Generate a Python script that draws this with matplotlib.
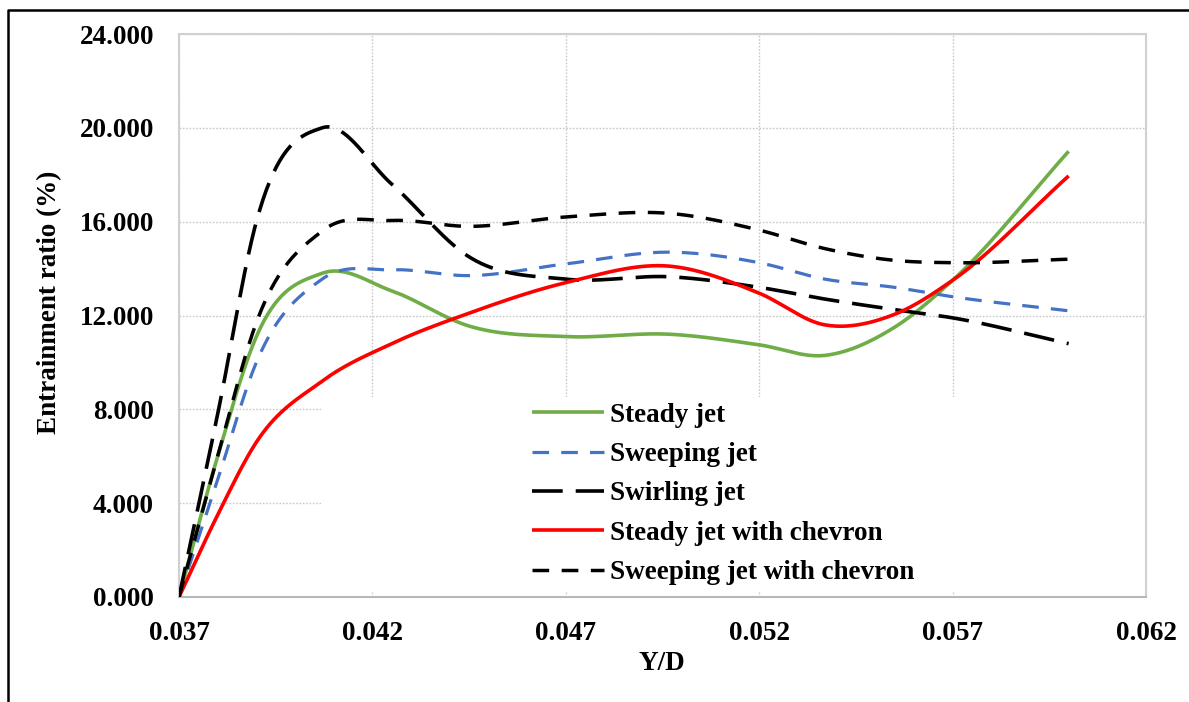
import numpy as np
import matplotlib.pyplot as plt
from matplotlib.lines import Line2D
from matplotlib.patches import Rectangle

plt.rcParams['font.family'] = ['Liberation Serif', 'DejaVu Serif']
plt.rcParams['font.weight'] = 'bold'

# Y/D stations and entrainment ratio (%) for each jet configuration
yd = [0.037, 0.038, 0.039, 0.0407, 0.0425, 0.0445, 0.047, 0.0497, 0.052, 0.0537, 0.0555, 0.057, 0.060]
steady = [0.0, 6.0, 11.1, 13.8, 13.05, 11.55, 11.1, 11.2, 10.75, 10.3, 11.5, 13.5, 19.0]
sweeping = [0.0, 5.0, 10.0, 13.55, 13.95, 13.7, 14.2, 14.7, 14.25, 13.55, 13.2, 12.8, 12.2]
swirling = [0.0, 7.8, 16.0, 20.0, 17.6, 14.5, 13.55, 13.65, 13.2, 12.7, 12.25, 11.9, 10.8]
steady_chevron = [0.0, 3.5, 6.6, 9.2, 10.8, 12.1, 13.4, 14.1, 12.95, 11.6, 12.05, 13.5, 17.95]
sweeping_chevron = [0.0, 6.0, 11.7, 15.6, 16.05, 15.8, 16.2, 16.35, 15.64, 14.85, 14.35, 14.25, 14.4]

labels = ['Steady jet', 'Sweeping jet', 'Swirling jet',
          'Steady jet with chevron', 'Sweeping jet with chevron']
x_ticks = [0.037, 0.042, 0.047, 0.052, 0.057, 0.062]
y_ticks = [0, 4, 8, 12, 16, 20, 24]


def smooth(x, y, n=40):
    # smoothed line: cubic Hermite segments with weighted central slopes
    x = np.asarray(x, float)
    y = np.asarray(y, float)
    h = np.diff(x)
    d = np.diff(y) / h
    m = np.empty_like(y)
    m[0], m[-1] = d[0], d[-1]
    m[1:-1] = (d[1:] * h[:-1] + d[:-1] * h[1:]) / (h[:-1] + h[1:])
    xs, ys = [], []
    for i in range(len(x) - 1):
        t = np.linspace(0, 1, n)
        h00 = 2 * t ** 3 - 3 * t ** 2 + 1
        h10 = t ** 3 - 2 * t ** 2 + t
        h01 = -2 * t ** 3 + 3 * t ** 2
        h11 = t ** 3 - t ** 2
        seg = h00 * y[i] + h10 * h[i] * m[i] + h01 * y[i + 1] + h11 * h[i] * m[i + 1]
        start = 0 if i == 0 else 1
        xs.append((x[i] + t * h[i])[start:])
        ys.append(seg[start:])
    return np.concatenate(xs), np.concatenate(ys)


fig = plt.figure(figsize=(11.89, 7.02), dpi=100)
ax = fig.add_axes([179 / 1189, 1 - 597 / 702, 967 / 1189, 563 / 702])

styles = [
    dict(color='#70AD47', lw=2.6, ls='-'),
    dict(color='#4472C4', lw=2.3, ls=(0, (5.2, 3.8))),
    dict(color='black', lw=2.6, ls=(0, (8.5, 3.6))),
    dict(color='#FF0000', lw=2.6, ls='-'),
    dict(color='black', lw=2.5, ls=(0, (4.8, 3.6))),
]
series = [steady, sweeping, swirling, steady_chevron, sweeping_chevron]

for vals, st, lab in zip(series, styles, labels):
    sx, sy = smooth(yd, vals)
    ax.plot(sx, sy, color=st['color'], lw=st['lw'], linestyle=st['ls'],
            label=lab, zorder=3, solid_capstyle='butt', dash_capstyle='butt')

ax.set_xlim(0.037, 0.062)
ax.set_ylim(0, 24)
ax.set_xticks(x_ticks)
ax.set_xticklabels([f'{v:.3f}' for v in x_ticks])
ax.set_yticks(y_ticks)
ax.set_yticklabels([f'{v:.3f}' for v in y_ticks])
ax.tick_params(length=0, labelsize=19.5)
ax.tick_params(axis='x', pad=17)
ax.tick_params(axis='y', pad=18)

ax.set_axisbelow(True)
ax.grid(True, color='#c8c8c8', linestyle=(0, (1.2, 1.2)), lw=1.0)
for s in ax.spines.values():
    s.set_color('#d0d0d0')
    s.set_linewidth(1.5)
ax.spines['bottom'].set_color('#b8b8b8')

# white legend panel sitting over the grid
ax.add_patch(Rectangle((0.1468, 0.009), 0.853, 0.346, transform=ax.transAxes,
                       facecolor='white', edgecolor='none', zorder=2))

leg = ax.legend(loc='upper left', bbox_to_anchor=(0.365, 0.345), frameon=False,
                fontsize=19.5, handlelength=2.65, handletextpad=0.25,
                labelspacing=0.53, borderpad=0, borderaxespad=0)
leg.set_zorder(4)

fig.text(662 / 1189, 1 - 663 / 702, 'Y/D', ha='center', va='center', fontsize=19.5, fontweight='bold')
fig.text(50 / 1189, 1 - 302 / 702, 'Entrainment ratio (%)', ha='center', va='center',
         rotation=90, fontsize=19.5, fontweight='bold')

# outer frame around the figure
fig.add_artist(Line2D([8 / 1189, 8 / 1189, 1.0], [0.0, 1 - 10 / 702, 1 - 10 / 702],
                      transform=fig.transFigure, color='black', lw=1.8))

fig.savefig('out.png', dpi=100)
